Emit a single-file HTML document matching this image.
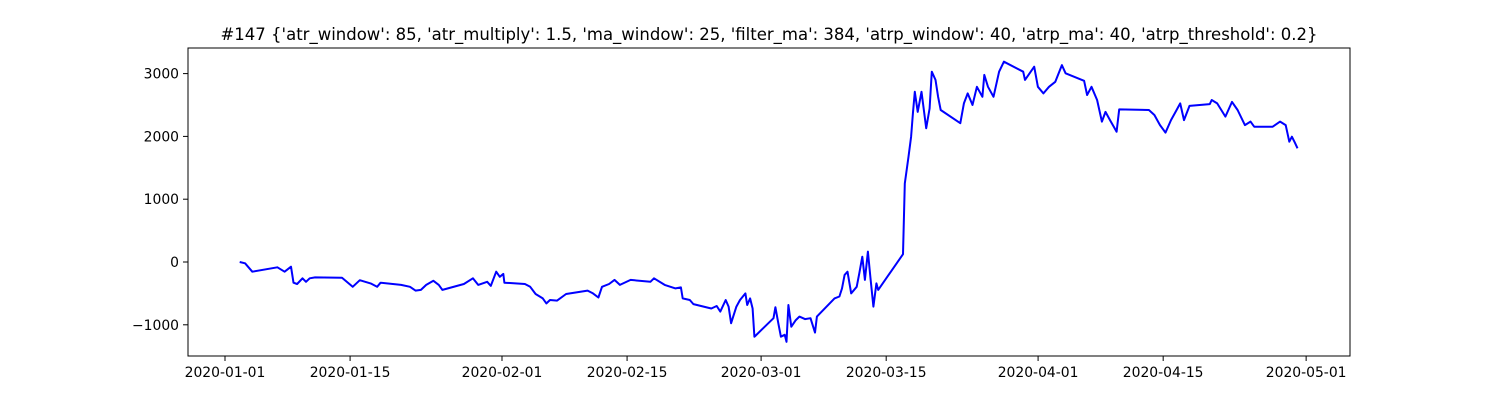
<!DOCTYPE html>
<html><head><meta charset="utf-8"><style>
html,body{margin:0;padding:0;background:#fff;width:1500px;height:400px;overflow:hidden}
text{font-family:"DejaVu Sans","Liberation Sans",sans-serif}
</style></head><body>
<svg id="chart" width="1500" height="400" xmlns="http://www.w3.org/2000/svg">
<text x="769" y="40" text-anchor="middle" font-size="16.5" fill="#000">#147 {'atr_window': 85, 'atr_multiply': 1.5, 'ma_window': 25, 'filter_ma': 384, 'atrp_window': 40, 'atrp_ma': 40, 'atrp_threshold': 0.2}</text>
<g id="axes"></g>
<path id="series" fill="none" stroke="#0000ff" stroke-width="2" stroke-linejoin="round"/>
<rect x="188" y="48" width="1162" height="308" fill="none" stroke="#000" stroke-width="1"/>
</svg>
<script>
// days since 2020-01-01
const days = [1.65,2.25,3.05,5.86,6.67,7.39,7.67,8.07,8.67,9.07,9.48,10.08,13.09,14.29,15.09,16.30,17.02,17.42,19.71,20.71,21.32,21.92,22.52,23.32,23.93,24.33,26.74,27.74,28.34,29.34,29.75,30.35,30.75,31.15,31.27,33.56,34.16,34.76,35.57,35.97,36.37,37.17,38.18,40.58,41.19,41.79,42.19,42.99,43.59,44.20,45.40,47.61,48.01,49.21,50.42,51.02,51.22,52.02,52.42,54.43,55.03,55.43,56.04,56.36,56.64,57.24,57.64,58.24,58.44,58.77,59.05,59.25,59.33,61.39,61.6,61.93,62.22,62.64,62.84,63.05,63.38,63.88,64.29,64.91,65.53,66.03,66.24,68.22,68.76,69.05,69.34,69.67,70.08,70.70,70.99,71.33,71.62,71.95,72.24,72.57,72.90,73.11,75.88,76.08,76.5,76.79,76.99,77.20,77.53,77.95,78.48,78.86,79.11,79.52,79.81,80.10,82.29,82.70,83.12,83.66,84.15,84.77,84.98,85.39,86.01,86.64,87.17,89.33,89.53,90.57,90.98,91.60,92.22,92.93,93.67,94.08,96.15,96.49,96.98,97.60,98.14,98.55,99.05,99.79,100.08,103.4,104.02,104.64,105.26,105.88,106.5,106.91,107.33,107.95,110.22,110.43,111.05,111.96,112.70,113.33,114.15,114.77,115.19,117.26,118.09,118.71,119.12,119.41,119.74,120.03];
const values = [0,-20,-155,-85,-155,-75,-330,-350,-260,-315,-260,-245,-250,-395,-290,-340,-395,-330,-365,-395,-455,-445,-365,-300,-365,-445,-350,-260,-365,-315,-380,-155,-235,-190,-330,-350,-395,-510,-580,-660,-605,-615,-510,-455,-500,-565,-395,-350,-285,-365,-285,-315,-260,-365,-420,-405,-580,-605,-670,-740,-700,-790,-605,-710,-975,-710,-605,-500,-685,-580,-740,-1190,-1180,-895,-720,-975,-1190,-1160,-1270,-685,-1030,-925,-870,-910,-895,-1125,-870,-580,-550,-420,-205,-155,-500,-395,-180,85,-285,165,-260,-710,-340,-445,125,1250,1675,1995,2365,2710,2390,2710,2130,2445,3030,2900,2630,2420,2210,2525,2685,2500,2790,2630,2980,2790,2630,3030,3190,3030,2900,3110,2790,2685,2790,2870,3135,3005,2885,2660,2790,2580,2235,2390,2260,2075,2430,2420,2340,2180,2060,2260,2420,2525,2260,2485,2515,2580,2525,2315,2550,2420,2180,2235,2155,2155,2235,2180,1915,1995,1900,1810];
const yTicks = [-1000,0,1000,2000,3000];
const xTickDays = [0,14,31,45,60,74,91,105,121];
const xTickLabels = ["2020-01-01","2020-01-15","2020-02-01","2020-02-15","2020-03-01","2020-03-15","2020-04-01","2020-04-15","2020-05-01"];

const xS = d => 225 + d*8.935;
const yS = v => 262 - v*0.0628;
const NS="http://www.w3.org/2000/svg";
const axes=document.getElementById('axes');
yTicks.forEach(t=>{
  const y=yS(t);
  const l=document.createElementNS(NS,'line');
  l.setAttribute('x1',183);l.setAttribute('x2',188);l.setAttribute('y1',y);l.setAttribute('y2',y);l.setAttribute('stroke','#000');
  
  
  axes.appendChild(l);
  const tx=document.createElementNS(NS,'text');
  tx.setAttribute('x',179);tx.setAttribute('y',y+5);tx.setAttribute('text-anchor','end');tx.setAttribute('font-size','13.9');
  tx.textContent=t===0?'0':(t<0?'\u2212'+Math.abs(t):String(t));
  
  
  axes.appendChild(tx);
});
xTickDays.forEach((d,i)=>{
  const x=xS(d);
  const l=document.createElementNS(NS,'line');
  l.setAttribute('x1',x);l.setAttribute('x2',x);l.setAttribute('y1',356);l.setAttribute('y2',361);l.setAttribute('stroke','#000');
  
  
  axes.appendChild(l);
  const tx=document.createElementNS(NS,'text');
  tx.setAttribute('x',x);tx.setAttribute('y',377);tx.setAttribute('text-anchor','middle');tx.setAttribute('font-size','13.9');
  tx.textContent=xTickLabels[i];
  
  
  axes.appendChild(tx);
});
document.getElementById('series').setAttribute('d', days.map((d,i)=>(i?'L':'M')+xS(d).toFixed(1)+' '+yS(values[i]).toFixed(1)).join(' '));
</script>
</body></html>
